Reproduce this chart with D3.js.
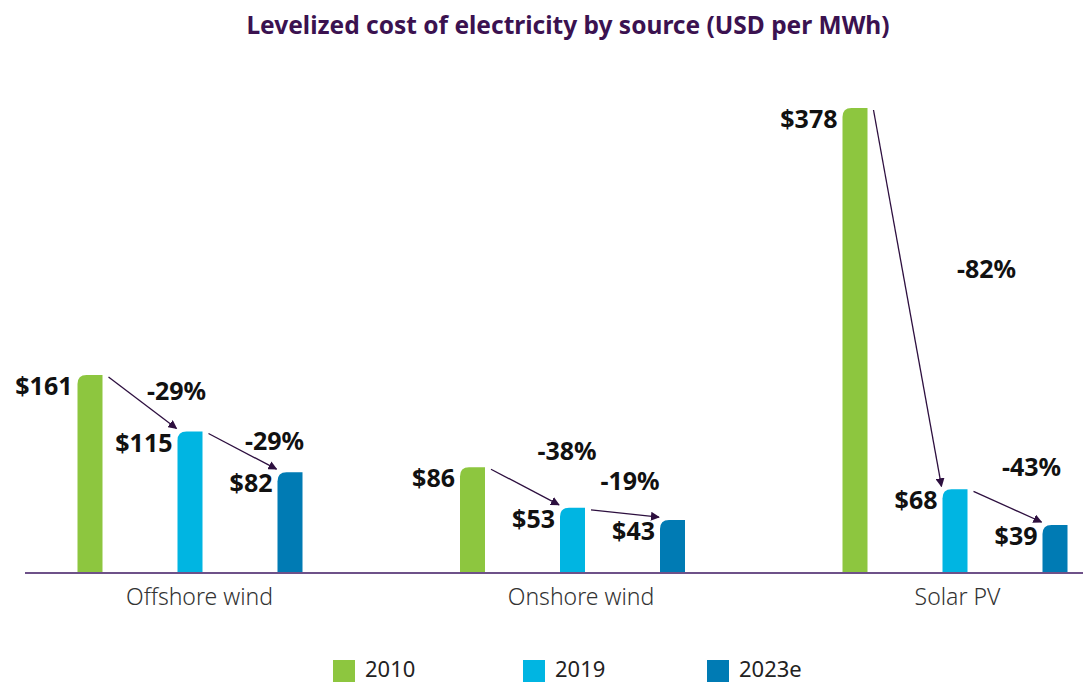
<!DOCTYPE html>
<html lang="en">
<head>
    <meta charset="UTF-8">
    <title>Levelized cost of electricity</title>
    <script src="https://d3js.org/d3.v7.min.js"></script>
    <style>
        body {
            margin: 0;
            background-color: #ffffff;
        }
        text {
            font-family: 'Noto Sans', sans-serif;
        }
    </style>
</head>
<body>
    <script>
        // Data
        const sources = ["Offshore wind", "Onshore wind", "Solar PV"];
        const years = ["2010", "2019", "2023e"];
        const cost2010 = [161, 86, 378];
        const cost2019 = [115, 53, 68];
        const cost2023 = [82, 43, 39];
        const changeA = ["-29%", "-38%", "-82%"];   // 2010 -> 2019
        const changeB = ["-29%", "-19%", "-43%"];   // 2019 -> 2023e

        const colors = ["#8dc63f", "#00b5e2", "#007bb4"];
        const series = [cost2010, cost2019, cost2023];

        // label nudges relative to arrow midpoints [dx, dy]
        const nudgeA = [[34, -12], [42, -36], [79, -29]];
        const nudgeB = [[32, -10], [5, -32], [24, -40]];

        const W = 1083, H = 684;
        const baseY = 573;

        const svg = d3.select("body").append("svg")
            .attr("width", W)
            .attr("height", H);

        // Scales
        const x = d3.scalePoint().domain(sources).range([190, 955]);
        const xs = d3.scalePoint().domain(years).range([-100, 100]);
        const y = d3.scaleLinear().domain([0, 378]).range([baseY, 108]);
        const barW = 25, r = 9;

        // Title
        svg.append("text")
            .attr("x", 568)
            .attr("y", 34)
            .attr("text-anchor", "middle")
            .style("font-size", "24.5px")
            .style("font-weight", "bold")
            .style("fill", "#3b1250")
            .text("Levelized cost of electricity by source (USD per MWh)");

        // arrowhead
        svg.append("defs").append("marker")
            .attr("id", "arr")
            .attr("viewBox", "0 0 10 10")
            .attr("refX", 9).attr("refY", 5)
            .attr("markerWidth", 9).attr("markerHeight", 9)
            .attr("markerUnits", "userSpaceOnUse")
            .attr("orient", "auto")
            .append("path")
            .attr("d", "M0,0 L10,5 L0,10 Z")
            .attr("fill", "#2d0f3f");

        function barPath(x0, y0) {
            const w = barW;
            return `M${x0},${baseY} L${x0},${y0 + r} Q${x0},${y0} ${x0 + r},${y0} L${x0 + w},${y0} L${x0 + w},${baseY} Z`;
        }

        sources.forEach(function(s, i) {
            const cx = x(s);
            years.forEach(function(yr, j) {
                const v = series[j][i];
                const x0 = cx + xs(yr) - barW / 2;
                svg.append("path")
                    .attr("d", barPath(x0, y(v)))
                    .attr("fill", colors[j]);
                svg.append("text")
                    .attr("x", x0 - 5)
                    .attr("y", y(v) + 20)
                    .attr("text-anchor", "end")
                    .style("font-size", "25px")
                    .style("font-weight", "bold")
                    .style("fill", "#111")
                    .text("$" + v);
            });

            // arrows
            [[0, 1, changeA, nudgeA], [1, 2, changeB, nudgeB]].forEach(function(a) {
                const from = a[0], to = a[1];
                const x1 = cx + xs(years[from]) + barW / 2 + 6;
                const y1 = y(series[from][i]) + 2;
                const x2 = cx + xs(years[to]) - barW / 2 - 1;
                const y2 = y(series[to][i]) - 3;
                svg.append("line")
                    .attr("x1", x1).attr("y1", y1)
                    .attr("x2", x2).attr("y2", y2)
                    .attr("stroke", "#2d0f3f")
                    .attr("stroke-width", 1.3)
                    .attr("marker-end", "url(#arr)");
                const mx = (x1 + x2) / 2 + a[3][i][0];
                const my = (y1 + y2) / 2 + a[3][i][1];
                svg.append("text")
                    .attr("x", mx)
                    .attr("y", my + 9)
                    .attr("text-anchor", "middle")
                    .style("font-size", "25px")
                    .style("font-weight", "bold")
                    .style("fill", "#111")
                    .text(a[2][i]);
            });
        });

        // Axis
        const axis = svg.append("g")
            .attr("transform", `translate(0,${baseY})`)
            .call(d3.axisBottom(x).tickSize(0).tickPadding(16));
        axis.select(".domain")
            .attr("d", "M25,0H1083")
            .attr("stroke", "#6e5189")
            .attr("stroke-width", 2);
        axis.selectAll(".tick text")
            .attr("dx", (d, i) => [9, 8, 2][i])
            .style("font-size", "23px")
            .style("font-family", "'Noto Sans', sans-serif")
            .style("font-weight", "300")
            .style("fill", "#333");

        // Legend
        const legendX = [333, 523, 707];
        const legend = svg.append("g");
        years.forEach(function(yr, j) {
            legend.append("rect")
                .attr("x", legendX[j]).attr("y", 660)
                .attr("width", 22).attr("height", 22)
                .attr("fill", colors[j]);
            legend.append("text")
                .attr("x", legendX[j] + 32)
                .attr("y", 677)
                .style("font-size", "22px")
                .style("fill", "#222")
                .text(yr);
        });
    </script>
</body>
</html>
